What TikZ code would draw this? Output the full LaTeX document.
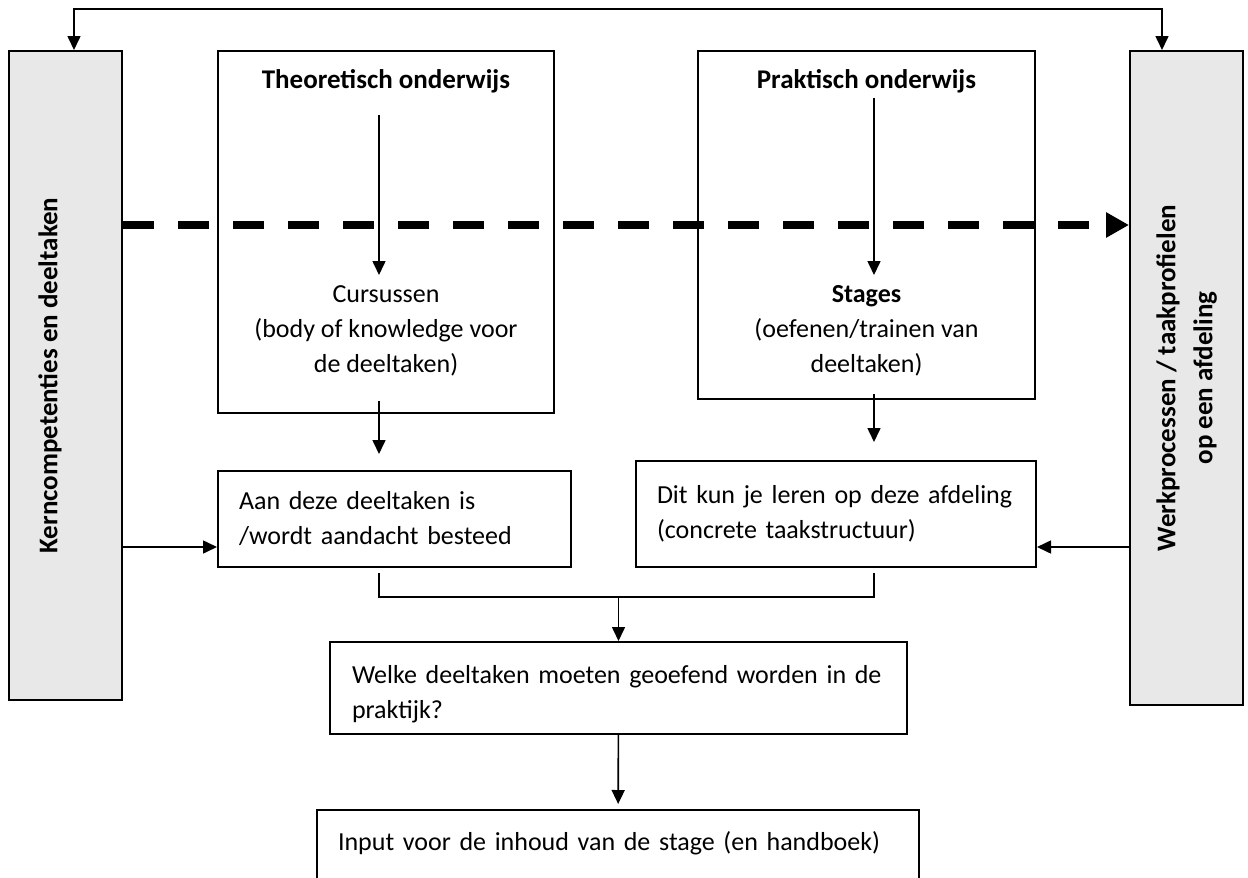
\documentclass[tikz,border=0pt]{standalone}
\usepackage{fontspec}
\setmainfont{Carlito}
\usepackage{graphicx}
\usetikzlibrary{arrows.meta,positioning,calc}
\definecolor{panelgray}{RGB}{232,232,232}
\newcommand\diafont{\fontsize{13}{17.5}\selectfont}
\newcommand\diabold{\fontsize{13.5}{18.5}\selectfont\bfseries}

\begin{document}
\begin{tikzpicture}[
  x=0.5pt, y=-0.5pt,
  font=\diafont,
  box/.style={draw, line width=1pt, inner sep=0pt},
  panel/.style={box, fill=panelgray},
  note/.style={box, align=left, inner xsep=10.5pt},
  head/.style={inner sep=0pt, font=\diabold},
  body/.style={inner sep=0pt, align=center},
  link/.style={line width=0.8pt},
  >={Triangle[length=7pt,width=6.5pt]}]
  \useasboundingbox (0,0) rectangle (1248,878);
  \clip (0,0) rectangle (1248,878);
  % side panels
  \node[panel, minimum width=56.5pt, minimum height=324.5pt] (kern) at (65.5,375.5)
    {\rotatebox{90}{\diabold Kerncompetenties en deeltaken}\hspace{15.5pt}\null};
  \node[panel, minimum width=56.5pt, minimum height=327pt] (werk) at (1186.5,378)
    {\rotatebox{90}{\diabold\begin{tabular}{@{}c@{}}Werkprocessen / taakprofielen\\op een afdeling\end{tabular}}};
  % education columns
  \node[box, minimum width=168pt, minimum height=181pt] (theo) at (386,232) {};
  \node[head, anchor=base] (theotitle) at (386,88) {Theoretisch onderwijs};
  \node[body, anchor=north] (cursus) at (386,285) {Cursussen\\(body of knowledge voor\\de deeltaken)};
  \node[box, minimum width=168.5pt, minimum height=174pt] (prak) at (866.5,225) {};
  \node[head, anchor=base] (praktitle) at (866.5,88) {Praktisch onderwijs};
  \node[body, anchor=north] (stages) at (866.5,285) {\textbf{Stages}\\(oefenen/trainen van\\deeltaken)};
  % notes
  \node[note, minimum width=176.5pt, minimum height=48pt, text width=155.5pt] (aan) at (394.5,519)
    {\mbox{Aan deze deeltaken is}\\\mbox{/wordt aandacht besteed}};
  \node[note, minimum width=200pt, minimum height=53pt, text width=179pt] (dit) at (836,514)
    {\mbox{Dit kun je leren op deze afdeling}\\\mbox{(concrete taakstructuur)}};
  \node[note, minimum width=288.5pt, minimum height=46pt, inner xsep=11pt, text width=266.5pt] (welke) at (618.5,688)
    {\rule{0pt}{15pt}\mbox{Welke deeltaken moeten geoefend worden in de}\\\mbox{praktijk?}};
  \node[note, minimum width=301pt, minimum height=48pt, text width=280pt] (input) at (618,858)
    {\mbox{Input voor de inhoud van de stage (en handboek)}\\\mbox{}};
  % helper points
  \coordinate (colA) at (379,0);
  \coordinate (colB) at (874,0);
  \coordinate (tl) at (74,9);
  \coordinate (tr) at (1162,9);
  \coordinate (dashrow) at (0,225);
  \coordinate (siderow) at (0,547);
  \coordinate (join) at (618.5,597);
  % connectors
  \draw[link, <->] (kern.north -| tl) -- (tl) -- (tr) -- (werk.north -| tr);
  \draw[line width=4pt, dash pattern=on 15.5pt off 12pt, -{Triangle[length=11.5pt,width=12pt]}]
    (kern.east |- dashrow) -- (werk.west |- dashrow);
  \draw[link, ->, shorten <=11pt, shorten >=5pt] (theotitle.south -| colA) -- (cursus.north -| colA);
  \draw[link, ->, shorten <=2.5pt, shorten >=5pt] (praktitle.south -| colB) -- (stages.north -| colB);
  \draw[link, ->, shorten <=-6.5pt, shorten >=8pt] (theo.south -| colA) -- (aan.north -| colA);
  \draw[link, ->, shorten <=-3pt, shorten >=9pt] (prak.south -| colB) -- (dit.north -| colB);
  \draw[link, ->] (kern.east |- siderow) -- (aan.west |- siderow);
  \draw[link, ->] (werk.west |- siderow) -- (dit.east |- siderow);
  \draw[link] ([yshift=-2.5pt]aan.south -| colA) |- (join) -| ([yshift=-2.5pt]dit.south -| colB);
  \draw[link, ->] (join) -- (welke);
  \draw[link, ->, shorten >=2.5pt] (welke) -- (input);
\end{tikzpicture}
\end{document}
